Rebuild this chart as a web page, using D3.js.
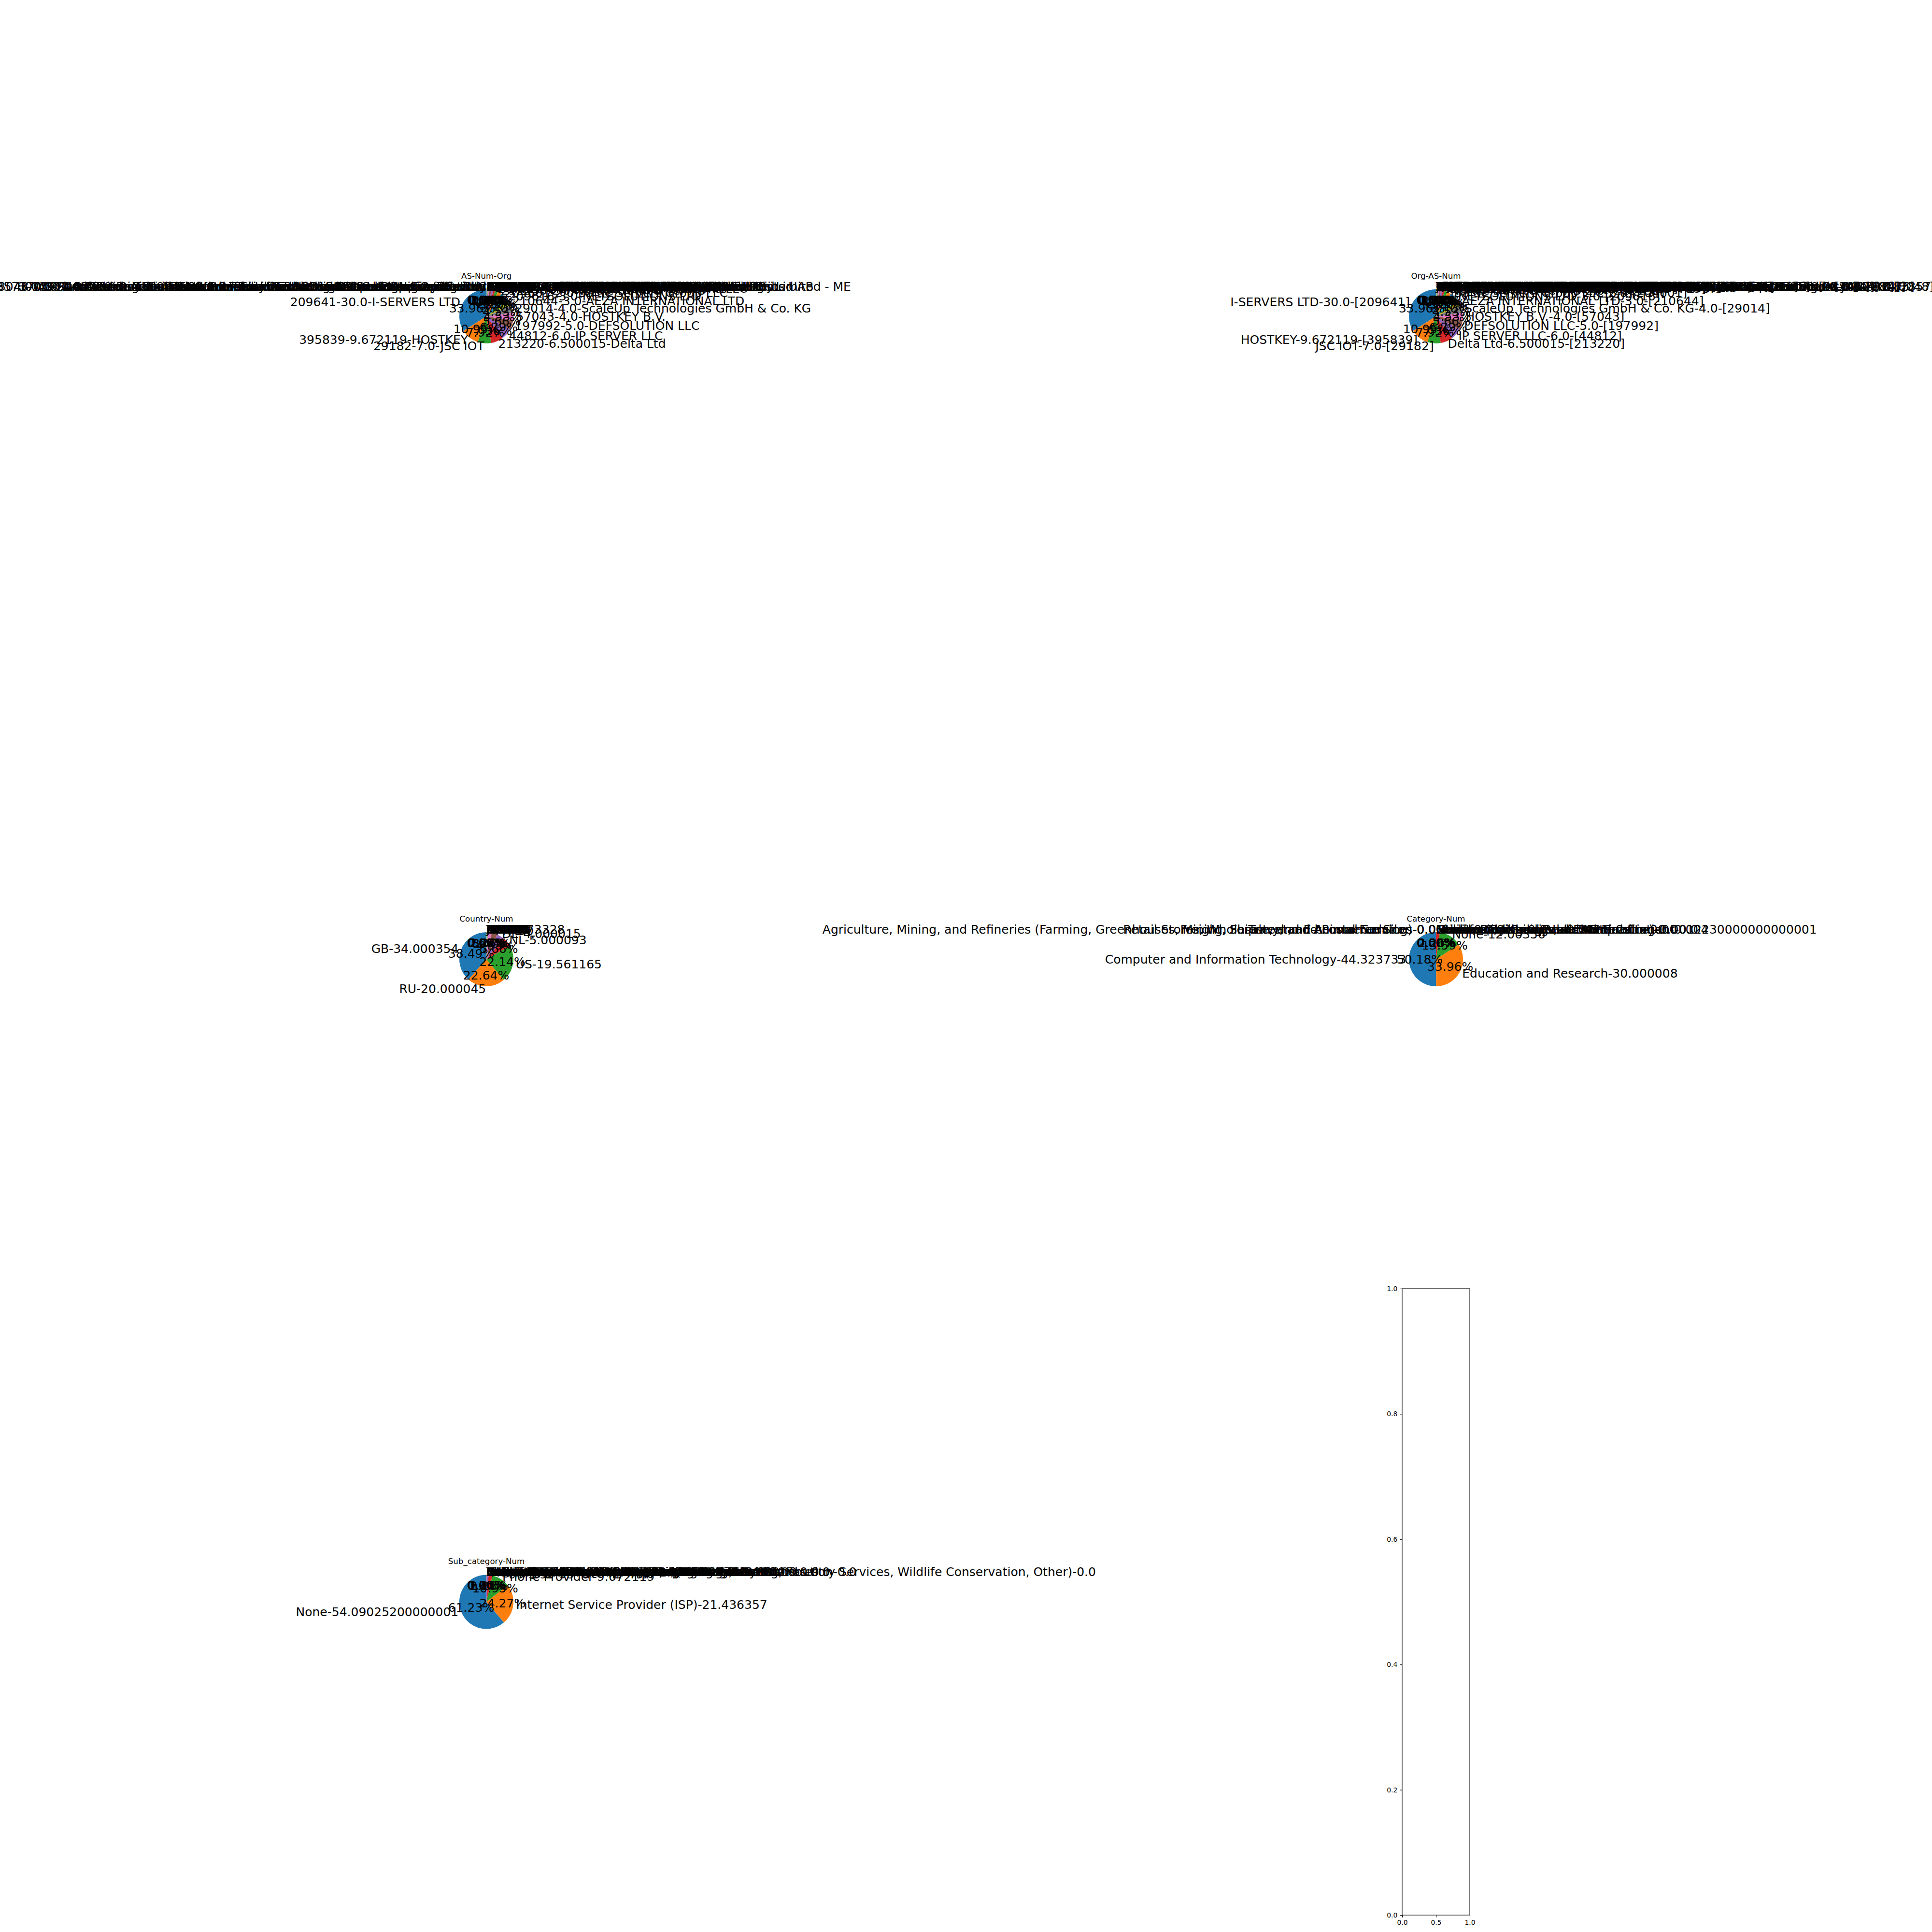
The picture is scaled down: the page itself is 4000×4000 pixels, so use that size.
<!DOCTYPE html>
<html>
<head>
<meta charset="utf-8">
<script src="https://cdn.jsdelivr.net/npm/d3@7"></script>
<style>
  html, body { margin: 0; padding: 0; background: #ffffff; }
  text { font-family: "DejaVu Sans", sans-serif; }
</style>
</head>
<body>
<svg id="fig" width="4000" height="4000" xmlns="http://www.w3.org/2000/svg"></svg>
<script>
// ---------------- DATA ----------------
const asNumbers = [209641, 395839, 29182, 213220, 44812, 197992, 57043, 29014, 210644, 209616,
  204601, 212238, 207713, 203514, 200651, 211252, 56630, 62240, 9009, 60781, 39351, 51396,
  8100, 16125, 50673, 43350, 12586, 25369, 34665, 41564, 42708, 47583, 49505, 58061, 61317, 64425,
  48693, 59711, 62005, 50867, 44477, 200019, 202425, 206728, 208091, 211619, 212512, 213035,
  214940, 215540, 216071, 14576, 20860, 29802, 30083, 35478, 39572, 44066, 47890, 49981,
  51765, 52000, 57523, 59729, 60404, 61272, 8585,
  8048, 28573, 8075, 9829, 4134, 3215, 7018, 4837, 3462, 17974, 45090, 24560];
const asOrgs = ["I-SERVERS LTD", "HOSTKEY", "JSC IOT", "Delta Ltd", "IP SERVER LLC", "DEFSOLUTION LLC",
  "HOSTKEY B.V.", "ScaleUp Technologies GmbH & Co. KG", "AEZA INTERNATIONAL LTD", "NETSOLUTIONS LTD",
  "Baltic Servers Group LLC", "Nordic Datacenter AB", "Global Internet Solutions LLC", "Cloud Line Networks LLC",
  "Atlantic Hosting ehf", "Stark Networks Ltd", "Metro Link UAB", "Provider Services Limited", "Frame Europe SRL",
  "Leased Web Netherlands B.V.", "Fiber Services AB", "Pfcloud UG",
  "QuadraNet Enterprises LLC", "UAB Cherry Servers", "Serverius Holding B.V.", "NForce Entertainment B.V.",
  "Bercom Telecom GmbH", "Hydra Communications Ltd", "Petersburg Internet Network ltd.", "Orion Network Limited",
  "Portlane Networks AB", "Hostinger International Limited", "JSC Selectel", "Scalaxy B.V.",
  "Sovereign Digital Infrastructure Ltd", "SKB Enterprise B.V.",
  "Rices Privately owned enterprise", "HZ Hosting Ltd", "BlueVPS OU", "HOSTKEY Networks LLC",
  "STARK INDUSTRIES SOLUTIONS LTD", "AlexHost SRL", "IP Volume inc", "Media Land LLC",
  "XHOST INTERNET SOLUTIONS LP", "MAXKO d.o.o.", "Detai Prosperous Technologies Limited", "Serverion BV",
  "Kuroit Limited", "Global Connectivity Solutions LLP", "Servers Tech Fzco", "Hosting Solution Ltd.",
  "Iomart Cloud Services Limited", "HIVELOCITY Inc.", "Web Domains Hosting LLC", "Teleradiocompany Info Ltd",
  "DataWeb Global Group B.V.", "First Colo GmbH", "Unmanaged Ltd", "WorldStream B.V.",
  "Oy Crea Nova Hosting Solution Ltd", "MIRholding B.V.", "Chang Way Technologies Co. Limited",
  "Green Floid LLC", "Liteserver Holding B.V.", "Informacines sistemos ir technologijos UAB",
  "Crnogorski Telekom Network Services Limited - ME",
  "Servicios de Telecomunicaciones y Redes Digitales Internacionales S.A.",
  "Claro Telecomunicacoes Ltda Servicos de Comunicacao Multimidia Ltda",
  "Information and Communication Technologies Development Agency",
  "National Internet Backbone Bharat Sanchar Nigam Limited",
  "Backbone Telecom Network Services Co. Ltd", "Orange S.A. Telecom",
  "Business Communication Services Network Operations Center LLC",
  "Unicom Backbone Provincial Network Services Company Limited",
  "Regional Telecommunication Networks and Data Services Ltd",
  "Telekomunikasi Indonesia Internasional Network Access Provider",
  "Korea Telecom Internet Data Center Operations", "Taiwan Academic Network Services Center"];
const asValues = [30.0, 9.672119, 7.0, 6.500015, 6.0, 5.0, 4.0, 4.0, 3.0, 3.0,
  2.0, 2.0, 1.5, 1.0, 1.0, 1.0, 0.5, 0.5, 0.3, 0.2, 0.1, 0.062866,
  0, 0, 0, 0, 0, 0, 0, 0, 0, 0, 0, 0, 0, 0,
  0, 0, 0, 0, 0, 0, 0, 0, 0, 0, 0, 0,
  0, 0, 0, 0, 0, 0, 0, 0, 0, 0, 0, 0,
  0, 0, 0, 0, 0, 0, 0,
  0, 0, 0, 0, 0, 0, 0, 0, 0, 0, 0, 0];

const countryCodes = ["GB", "RU", "US", "NL", "DE", "FR", "CH", "SE", "PL", "CA",
  "JP", "UA", "KZ", "SG", "IT", "ES", "LT", "TR", "HK", "BG", "RO", "LV",
  "FI", "CZ", "MD", "AT", "IE", "BE", "NO", "DK", "EE", "RS", "HU", "IL", "AE", "CN", "IN", "BR"];
const countryValues = [34.000354, 20.000045, 19.561165, 5.000093, 4.000015, 3.0, 2.0, 0.5, 0.2, 0.073328,
  0, 0, 0, 0, 0, 0, 0, 0, 0, 0, 0, 0,
  0, 0, 0, 0, 0, 0, 0, 0, 0, 0, 0, 0, 0, 0, 0, 0];

const categoryNames = ["Computer and Information Technology", "Education and Research", "None",
  "Finance and Insurance", "Government and Public Administration", "Health Care Services",
  "Media, Publishing, and Broadcasting", "Community Groups and Nonprofits", "Construction and Real Estate",
  "Museums, Libraries, and Entertainment", "Utilities (Excluding Internet Service)", "Manufacturing",
  "Service", "Other", "Travel and Accommodation", "Freight, Shipment, and Postal Services",
  "Retail Stores, Wholesale, and E-commerce Sites",
  "Agriculture, Mining, and Refineries (Farming, Greenhouses, Mining, Forestry, and Animal Farming)"];
const categoryValues = [44.323733, 30.000008, 12.00356, 2.0, 0.004, 0.0025, 0.0012230000000000002,
  0, 0, 0, 0, 0, 0, 0, 0, 0, 0, 0];

const subcategoryNames = ["None", "Internet Service Provider (ISP)", "Phone Provider",
  "Hosting and Cloud Provider", "Software Development", "Computer and Network Security",
  "Technology Consulting Services", "Satellite Communication", "Search Engine",
  "Internet Exchange Point (IXP)", "Other", "Colleges, Universities, and Professional Schools",
  "Elementary and Secondary Schools", "Research and Development Organizations", "Education Software",
  "Banks, Credit Card Companies, Mortgage Providers", "Insurance Carriers and Agencies",
  "Accountants, Tax Preparers, Payroll Services", "Investment",
  "Law Enforcement, Military, and Public Safety", "Libraries and Archives",
  "Recreation, Sports, and Performing Arts", "Hospitals and Medical Centers",
  "Real Estate Agents and Property Management", "Buildings and Construction Contractors",
  "Radio and Television Providers", "Online Music and Video Streaming Services",
  "News, Magazines, Newspapers, and Other Publishers", "Religious Organizations",
  "Electric Power Generation, Transmission, and Distribution",
  "Other Agriculture and Services (Fishing, Hunting, Forestry Services, Wildlife Conservation, Other)"];
const subcategoryValues = [54.09025200000001, 21.436357, 9.672119, 2.0, 1.0, 0.1, 0.036272,
  0, 0, 0, 0, 0, 0, 0, 0, 0, 0, 0, 0, 0, 0, 0, 0, 0, 0, 0, 0, 0, 0, 0, 0];

const yTickValues = [0.0, 0.2, 0.4, 0.6, 0.8, 1.0];
const xTickValues = [0.0, 0.5, 1.0];

// ---------------- LAYOUT ----------------
const W = 4000, H = 4000;
const cellW = 140;                 // axes box width (tight layout)
const cellH = 1297;                // axes box height
const colCenters = [1007, 2973];
const rowCenters = [655, 1986, 3316.5];
const pt = 100 / 72;               // px per point at dpi 100
const labelFont = 18 * pt;
const titleFont = 12 * pt;
const tickFont = 10 * pt;

const svg = d3.select("#fig");
svg.append("rect").attr("width", W).attr("height", H).attr("fill", "#ffffff");

const colors = d3.schemeCategory10;
const pyStr = v => Number.isInteger(v) ? v.toFixed(1) : String(v);

// flipTail: how many trailing labels sitting exactly at the top fall on the left
// (float rounding of the cumulative angle in the original plot)
function drawPie(cx, cy, title, labels, values, flipTail) {
  const r = (cellW / 2) / 1.25;
  const g = svg.append("g").attr("transform", `translate(${cx},${cy})`);
  const total = d3.sum(values);
  const pie = d3.pie().sort(null).value(d => d).startAngle(0).endAngle(-2 * Math.PI);
  const arcs = pie(values);
  const arc = d3.arc().innerRadius(0).outerRadius(r);
  g.selectAll("path.wedge").data(arcs).enter().append("path")
    .attr("class", "wedge")
    .attr("d", arc)
    .attr("fill", (d, i) => colors[i % 10]);
  const n = arcs.length;
  arcs.forEach((a, i) => {
    const mid = (a.startAngle + a.endAngle) / 2;
    const lx = Math.sin(mid) * 1.1 * r;
    const ly = -Math.cos(mid) * 1.1 * r;
    let anchor;
    if (lx > 1e-6) anchor = "start";
    else if (lx < -1e-6) anchor = "end";
    else anchor = (i >= n - flipTail) ? "end" : "start";
    g.append("text")
      .attr("x", lx).attr("y", ly)
      .attr("text-anchor", anchor)
      .attr("dominant-baseline", "central")
      .attr("font-size", labelFont)
      .attr("fill", "#000")
      .text(labels[i]);
    const px = Math.sin(mid) * 0.6 * r;
    const py = -Math.cos(mid) * 0.6 * r;
    g.append("text")
      .attr("x", px).attr("y", py)
      .attr("text-anchor", "middle")
      .attr("dominant-baseline", "central")
      .attr("font-size", labelFont)
      .attr("fill", "#000")
      .text((a.data / total * 100).toFixed(2) + "%");
  });
  svg.append("text")
    .attr("x", cx).attr("y", cy - cellW / 2 - 6 * pt)
    .attr("text-anchor", "middle")
    .attr("font-size", titleFont)
    .attr("fill", "#000")
    .text(title);
}

// Pie 1: AS-Num-Org
drawPie(colCenters[0], rowCenters[0], "AS-Num-Org",
  asNumbers.map((a, i) => `${a}-${pyStr(asValues[i])}-${asOrgs[i]}`), asValues, 12);
// Pie 2: Org-AS-Num
drawPie(colCenters[1], rowCenters[0], "Org-AS-Num",
  asNumbers.map((a, i) => `${asOrgs[i]}-${pyStr(asValues[i])}-[${a}]`), asValues, 0);
// Pie 3: Country-Num
drawPie(colCenters[0], rowCenters[1], "Country-Num",
  countryCodes.map((c, i) => `${c}-${pyStr(countryValues[i])}`), countryValues, 0);
// Pie 4: Category-Num
drawPie(colCenters[1], rowCenters[1], "Category-Num",
  categoryNames.map((c, i) => `${c}-${pyStr(categoryValues[i])}`), categoryValues, 4);
// Pie 5: Sub_category-Num
drawPie(colCenters[0], rowCenters[2], "Sub_category-Num",
  subcategoryNames.map((c, i) => `${c}-${pyStr(subcategoryValues[i])}`), subcategoryValues, 0);

// Empty axes (6th subplot)
const ax0 = colCenters[1] - cellW / 2, ax1 = colCenters[1] + cellW / 2;
const ay0 = rowCenters[2] - cellH / 2, ay1 = rowCenters[2] + cellH / 2;
const xs = d3.scaleLinear().domain([0, 1]).range([ax0, ax1]);
const ys = d3.scaleLinear().domain([0, 1]).range([ay1, ay0]);
const lw = 0.8 * pt;

const gy = svg.append("g").attr("transform", `translate(${ax0},0)`)
  .call(d3.axisLeft(ys).tickValues(yTickValues).tickFormat(d3.format(".1f"))
    .tickSizeInner(3.5 * pt).tickSizeOuter(0).tickPadding(3.5 * pt));
const gx = svg.append("g").attr("transform", `translate(0,${ay1})`)
  .call(d3.axisBottom(xs).tickValues(xTickValues).tickFormat(d3.format(".1f"))
    .tickSizeInner(3.5 * pt).tickSizeOuter(0).tickPadding(3.5 * pt));
[gx, gy].forEach(g => {
  g.select(".domain").remove();
  g.selectAll("line").attr("stroke", "#000").attr("stroke-width", lw);
  g.selectAll("text").attr("font-size", tickFont).attr("fill", "#000")
    .attr("font-family", "DejaVu Sans, sans-serif");
});
svg.append("rect")
  .attr("x", ax0).attr("y", ay0).attr("width", ax1 - ax0).attr("height", ay1 - ay0)
  .attr("fill", "none").attr("stroke", "#000").attr("stroke-width", lw);
</script>
</body>
</html>
